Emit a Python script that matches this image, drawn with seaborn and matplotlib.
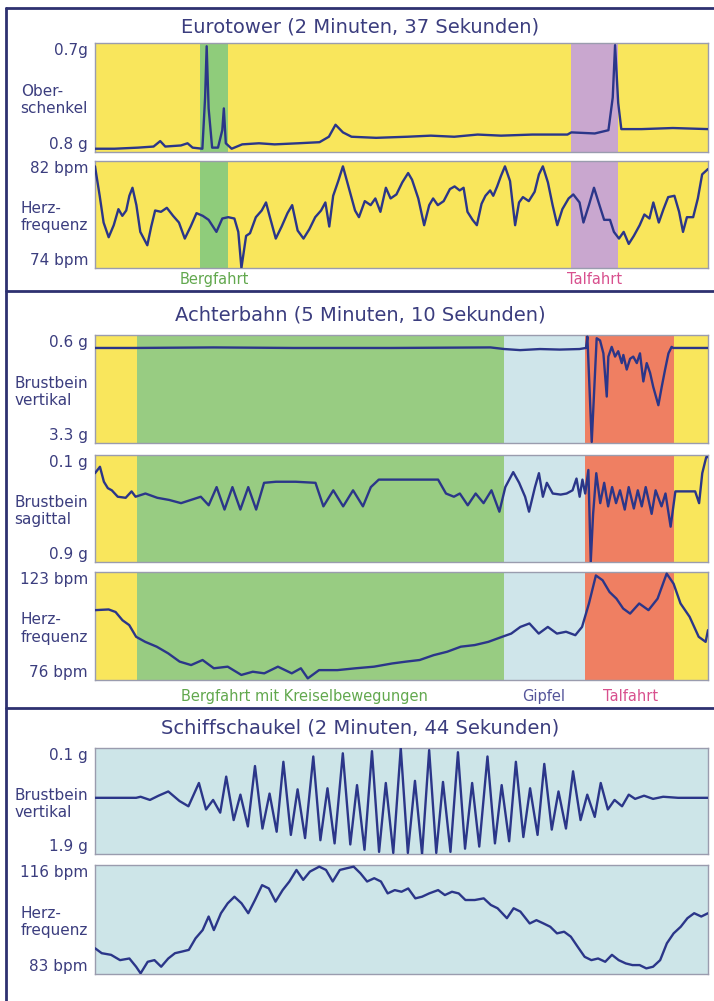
import numpy as np
import pandas as pd
import matplotlib
matplotlib.use("Agg")
import matplotlib.pyplot as plt
from matplotlib.lines import Line2D
import seaborn as sns

# ---- Eurotower (157 s) ----
euro_duration = 157
euro_bands = [(27, 34, "#8fcc7b"), (122, 134, "#c9a7cf")]
euro_band_labels = ["Bergfahrt", "Talfahrt"]
euro_band_label_colors = ["#62a84e", "#d8508e"]

euro_t_ober = [0, 5, 11, 15, 16.7, 18, 22, 23.7, 25, 27.5, 28.2, 28.6, 29.1, 30, 31.5, 32.6,
               33.0, 33.5, 35, 37.7, 42, 46, 52, 57.5, 59.9, 61.6, 63.5, 65.7, 72, 80, 86, 92,
               98, 104, 112, 121, 122, 128, 131.5, 132.6, 133.2, 134, 134.8, 140, 148, 157]
euro_ober = [0.03, 0.03, 0.04, 0.05, 0.10, 0.05, 0.06, 0.08, 0.04, 0.03, 0.50, 0.97, 0.40, 0.04,
             0.04, 0.20, 0.40, 0.08, 0.03, 0.07, 0.08, 0.07, 0.08, 0.09, 0.14, 0.25, 0.18, 0.14,
             0.13, 0.14, 0.15, 0.14, 0.16, 0.15, 0.16, 0.16, 0.18, 0.17, 0.20, 0.50, 0.98, 0.45,
             0.21, 0.21, 0.22, 0.21]

euro_t_hr = [0, 1.2, 2.2, 3.5, 4.8, 6.0, 7.0, 8.0, 8.8, 9.6, 10.6, 11.6, 13.4, 14.4, 15.4, 16.9,
             18.4, 20.0, 21.5, 23.0, 24.5, 26.0, 27.6, 29.1, 31.1, 32.6, 34.1, 35.7, 36.7, 37.5,
             38.7, 39.7, 41.2, 42.7, 43.8, 44.8, 46.3, 47.8, 49.3, 50.5, 51.9, 53.4, 54.9, 56.4,
             57.9, 59.0, 60.0, 61.0, 62.3, 63.5, 65.0, 66.6, 67.6, 69.1, 70.6, 71.8, 73.1, 74.5,
             75.7, 77.2, 78.7, 80.2, 81.2, 82.8, 84.3, 85.6, 86.6, 87.8, 89.3, 90.9, 92.1, 93.4,
             94.4, 95.4, 96.7, 97.8, 99.0, 100.0, 101.2, 102.0, 103.0, 104.0, 105.0, 106.3, 107.6,
             108.6, 109.6, 111.1, 112.6, 113.7, 114.7, 116.0, 117.2, 118.4, 119.7, 121.3, 122.5,
             124.1, 125.1, 126.5, 127.8, 129.2, 130.4, 131.9, 132.9, 134.2, 135.4, 136.7, 138.0,
             139.5, 140.7, 142.0, 143.0, 144.4, 145.6, 146.8, 148.4, 149.6, 150.6, 151.6, 153.2,
             154.4, 155.5, 157]
euro_hr = [81.6, 79.4, 77.4, 76.3, 77.2, 78.4, 77.9, 78.3, 79.4, 80.0, 78.7, 76.7, 75.7, 77.1,
           78.3, 78.2, 78.5, 77.9, 77.4, 76.2, 77.1, 78.1, 77.9, 77.6, 76.7, 77.7, 77.8, 77.7,
           76.7, 74.0, 76.4, 76.6, 77.8, 78.3, 78.9, 77.8, 76.2, 77.1, 78.1, 78.7, 76.8, 76.2,
           76.9, 77.8, 78.3, 78.9, 77.1, 79.4, 80.5, 81.6, 80.0, 78.3, 77.8, 79.0, 78.7, 79.2,
           78.2, 80.0, 79.2, 79.5, 80.4, 81.1, 80.6, 79.2, 77.2, 78.7, 79.2, 78.7, 79.0, 79.9,
           80.1, 79.8, 80.0, 78.2, 77.6, 77.2, 78.8, 79.4, 79.8, 79.4, 80.1, 80.9, 81.6, 80.5,
           77.2, 78.9, 79.3, 79.0, 79.7, 81.0, 81.6, 80.4, 78.7, 77.2, 78.4, 79.2, 79.5, 78.9,
           77.4, 78.7, 80.0, 78.7, 77.6, 77.6, 76.7, 76.2, 76.7, 75.8, 76.4, 77.2, 78.0, 77.7,
           78.9, 77.4, 78.4, 79.3, 79.4, 78.2, 76.7, 77.8, 77.8, 79.2, 81.0, 81.4]

# ---- Achterbahn (310 s) ----
achter_duration = 310
achter_bands = [(0, 21, "#f9e65c"), (21, 207, "#98cc82"), (207, 248, "#cfe5ea"),
                (248, 293, "#ef7f62"), (293, 310, "#f9e65c")]
achter_label_t = [106, 227, 271]
achter_band_labels = ["Bergfahrt mit Kreiselbewegungen", "Gipfel", "Talfahrt"]
achter_band_label_colors = ["#62a84e", "#55559a", "#d8508e"]

achter_t_vert = [0, 20, 60, 100, 150, 200, 207, 215, 225, 235, 245, 248.3, 249.0, 251.2, 253.7,
                 255.4, 257.1, 258.8, 259.6, 261.3, 263.0, 264.6, 266.4, 267.2, 268.9, 270.6,
                 272.2, 274.0, 275.6, 277.3, 279.0, 280.7, 282.3, 284.9, 286.6, 288.3, 290.0,
                 291.6, 292.4, 300, 310]
achter_vert = [0.88, 0.88, 0.885, 0.88, 0.88, 0.885, 0.87, 0.86, 0.87, 0.865, 0.87, 0.88, 0.985,
               0.01, 0.97, 0.95, 0.83, 0.43, 0.80, 0.89, 0.80, 0.85, 0.74, 0.815, 0.68, 0.78,
               0.80, 0.74, 0.83, 0.57, 0.74, 0.65, 0.52, 0.35, 0.52, 0.68, 0.83, 0.89, 0.88,
               0.88, 0.88]

achter_t_sag = [0, 2.5, 4.5, 6.5, 8.5, 11.5, 15.5, 18.5, 20.5, 25.5, 31.5, 37.5, 43.5, 48.5,
                53.5, 57.5, 61.5, 65.5, 69.5, 73.5, 77.5, 81.5, 85.5, 91.5, 101.5, 111.5, 115.5,
                120.5, 125.5, 130.5, 135.5, 139.5, 143.5, 153.5, 163.5, 173.5, 177.5, 181.5,
                184.5, 188.5, 192.5, 196.5, 200.5, 204.5, 207.5, 211.5, 214.5, 217.5, 219.5,
                222.5, 224.5, 226.5, 228.5, 231.5, 235.5, 238.5, 241.5, 243.5, 245.1, 246.5,
                247.9, 249.5, 250.7, 251.9, 253.5, 255.5, 257.5, 259.5, 261.5, 263.5, 265.5,
                267.9, 269.9, 272.5, 274.5, 276.5, 278.5, 281.5, 283.5, 286.5, 288.5, 291.1,
                293.5, 299.5, 303.5, 305.5, 307.1, 309.1, 310]
achter_sag = [0.83, 0.89, 0.75, 0.69, 0.67, 0.61, 0.60, 0.66, 0.61, 0.64, 0.60, 0.58, 0.55, 0.58,
              0.61, 0.53, 0.70, 0.49, 0.70, 0.49, 0.70, 0.49, 0.74, 0.75, 0.75, 0.74, 0.52, 0.67,
              0.52, 0.67, 0.52, 0.70, 0.77, 0.77, 0.77, 0.77, 0.64, 0.61, 0.64, 0.53, 0.64, 0.55,
              0.67, 0.47, 0.70, 0.84, 0.74, 0.61, 0.47, 0.70, 0.83, 0.61, 0.74, 0.64, 0.63, 0.64,
              0.67, 0.78, 0.61, 0.77, 0.64, 0.86, 0.00, 0.45, 0.83, 0.55, 0.74, 0.52, 0.70, 0.55,
              0.67, 0.49, 0.70, 0.50, 0.67, 0.52, 0.70, 0.45, 0.67, 0.52, 0.64, 0.33, 0.66, 0.66,
              0.66, 0.55, 0.83, 0.98, 0.98]

achter_t_hr = [0, 6.9, 10.4, 13.9, 17.3, 20.8, 25.4, 31.2, 37.0, 42.8, 48.6, 54.4, 60.1, 67.1,
               74.0, 79.8, 85.6, 92.5, 99.5, 104.1, 107.6, 113.3, 122.6, 131.8, 141.1, 150.3,
               157.3, 164.2, 171.2, 178.1, 185.0, 192.0, 198.9, 205.9, 210.5, 215.1, 219.7,
               224.4, 229.0, 233.6, 238.2, 242.9, 246.3, 249.8, 253.3, 256.7, 260.2, 263.7,
               267.1, 270.6, 275.2, 279.9, 284.5, 289.1, 292.6, 296.1, 300.7, 305.3, 308.8, 310]
achter_hr = [106.4, 106.7, 105.6, 102.0, 99.9, 94.8, 92.6, 90.5, 87.6, 84.0, 82.5, 84.7, 81.1,
             81.8, 78.2, 79.6, 78.9, 81.8, 78.9, 81.1, 76.7, 80.3, 80.3, 81.1, 81.8, 83.2, 84.0,
             84.7, 86.8, 88.3, 90.5, 91.2, 92.6, 94.8, 96.2, 99.1, 100.6, 96.2, 99.1, 96.2, 97.0,
             95.5, 99.1, 109.3, 121.5, 119.4, 114.3, 111.4, 107.1, 104.9, 109.3, 106.4, 111.4,
             122.3, 117.9, 109.3, 103.5, 94.8, 92.6, 97.7]

# ---- Schiffschaukel (164 s) ----
schiff_duration = 164
schiff_t_vert = [0, 11.0, 12.2, 14.7, 17.0, 19.6, 22.6, 25.0,
                 27.8, 29.7, 31.6, 33.5, 35.1, 37.1, 38.9, 40.9,
                 42.8, 44.8, 46.7, 48.6, 50.4, 52.4, 54.2, 56.2,
                 58.4, 60.3, 62.2, 64.1, 66.3, 68.3, 70.1, 72.1,
                 74.1, 76.0, 77.8, 79.8, 81.8, 83.7, 85.6, 87.5,
                 89.4, 91.3, 93.1, 95.1, 97.1, 99.0, 100.9, 102.8,
                 105.0, 107.0, 108.8, 110.8, 112.6, 114.6, 116.4, 118.4,
                 120.2, 122.2, 124.0, 126.0, 127.9, 129.9, 131.7, 133.7,
                 135.3, 137.2, 139.0, 141.0,
                 142.8, 144.5, 146.9, 149.3, 152.0, 156.0, 160.0, 164.0]
schiff_vert = [0.53, 0.53, 0.54, 0.51, 0.55, 0.59, 0.50, 0.45,
               0.67, 0.42, 0.51, 0.39, 0.73, 0.32, 0.56, 0.26,
               0.83, 0.24, 0.57, 0.21, 0.87, 0.18, 0.61, 0.15,
               0.92, 0.13, 0.62, 0.10, 0.95, 0.09, 0.65, 0.04,
               0.97, 0.02, 0.67, 0.01, 1.00, 0.01, 0.69, 0.00,
               0.98, 0.01, 0.68, 0.02, 0.96, 0.05, 0.67, 0.07,
               0.92, 0.10, 0.65, 0.12, 0.87, 0.16, 0.62, 0.18,
               0.85, 0.23, 0.59, 0.24, 0.78, 0.32, 0.56, 0.35,
               0.67, 0.42, 0.51, 0.45,
               0.56, 0.52, 0.55, 0.52, 0.54, 0.53, 0.53, 0.53]

schiff_t_hr = [0, 1.8, 4.3, 6.7, 9.2, 11.0, 12.2, 14.1, 15.9, 17.7, 19.6, 21.4, 23.3, 25.1, 26.9,
               28.8, 30.4, 31.8, 33.7, 35.5, 37.3, 39.2, 41.0, 42.8, 44.7, 46.5, 48.3, 50.2,
               52.0, 53.9, 55.7, 57.5, 60.0, 61.8, 63.6, 65.5, 67.3, 69.2, 71.0, 72.8, 74.7,
               76.5, 78.3, 80.2, 82.0, 83.8, 85.7, 87.5, 89.4, 91.8, 93.6, 95.5, 97.3, 99.1,
               101.6, 104.0, 105.9, 107.7, 110.2, 112.0, 113.8, 116.3, 118.1, 120.0, 121.8,
               123.6, 125.5, 127.3, 129.1, 131.0, 132.8, 134.6, 136.5, 138.3, 140.1, 142.0,
               143.8, 145.7, 147.5, 149.3, 151.2, 153.0, 154.8, 156.7, 158.5, 160.3, 162.2, 164.0]
schiff_hr = [90.8, 89.3, 88.8, 87.2, 87.7, 85.2, 83.2, 86.7, 87.2, 85.2, 87.7, 89.3, 89.8, 90.3,
             93.8, 96.3, 100.4, 96.3, 101.4, 104.4, 106.4, 104.4, 101.4, 105.4, 109.9, 108.9,
             104.9, 108.4, 111.0, 114.5, 111.5, 114.0, 115.5, 114.5, 111.0, 114.5, 115.0, 115.5,
             113.5, 111.0, 112.0, 111.0, 107.4, 108.4, 107.9, 108.9, 105.9, 106.4, 107.4, 108.4,
             106.9, 107.9, 107.4, 105.4, 105.4, 105.9, 103.9, 102.9, 99.9, 102.9, 101.9, 98.3,
             99.3, 98.3, 97.3, 95.3, 95.8, 94.3, 91.3, 88.2, 87.2, 87.7, 86.7, 88.8, 87.2, 86.2,
             85.7, 85.7, 84.7, 85.2, 87.2, 92.3, 95.3, 97.3, 99.9, 101.4, 100.4, 101.4]

# ---- style ----
sns.set_theme(style="white")
plt.rcParams["font.family"] = ["DejaVu Sans"]
LINE = "#2b3689"
TXT = "#3b3d7e"
FRAME = "#2e3170"
YELLOW = "#f9e65c"
SCHIFF_BG = "#cde5e8"

W, H = 714, 1001
fig = plt.figure(figsize=(W / 100, H / 100), dpi=100)
fig.patch.set_facecolor("white")


def rect(top, bottom):
    return [95 / W, 1 - bottom / H, (708 - 95) / W, (bottom - top) / H]


def panel(top, bottom, t, v, duration, ylim, labels, bg, bands=()):
    ax = fig.add_axes(rect(top, bottom))
    ax.set_facecolor(bg)
    for a, b, c in bands:
        ax.axvspan(a, b, color=c, lw=0, zorder=0)
    df = pd.DataFrame({"t": t, "v": v})
    sns.lineplot(data=df, x="t", y="v", ax=ax, color=LINE, lw=1.7,
                 sort=False, estimator=None, zorder=3)
    ax.set_xlim(0, duration)
    ax.set_ylim(*ylim)
    ax.set_xticks([])
    ax.set_xlabel("")
    ax.set_ylabel("")
    lo, hi = ylim
    ax.set_yticks([lo, (lo + hi) / 2, hi], [labels[2], labels[1], labels[0]])
    ax.tick_params(axis="y", length=0, pad=5, labelsize=11, labelcolor=TXT, left=False)
    tl = ax.get_yticklabels()
    tl[0].set_va("bottom")
    tl[1].set_multialignment("left")
    tl[2].set_va("top")
    for s in ax.spines.values():
        s.set_color("#9a9cae")
        s.set_linewidth(1.0)
    return ax


def title(y, txt):
    fig.text(360 / W, 1 - y / H, txt, ha="center", va="center", fontsize=14, color=TXT)


# Eurotower
title(27, "Eurotower (2 Minuten, 37 Sekunden)")
panel(43, 152, euro_t_ober, euro_ober, euro_duration, (0, 1),
      ["0.7g", "Ober-\nschenkel", "0.8 g"], YELLOW, euro_bands)
ax = panel(161, 268, euro_t_hr, euro_hr, euro_duration, (74, 82),
           ["82 bpm", "Herz-\nfrequenz", "74 bpm"], YELLOW, euro_bands)
for (a, b, c), lab, col in zip(euro_bands, euro_band_labels, euro_band_label_colors):
    ax.text((a + b) / 2, -0.11, lab, transform=ax.get_xaxis_transform(),
            ha="center", va="center", fontsize=10.5, color=col)

# Achterbahn
title(315, "Achterbahn (5 Minuten, 10 Sekunden)")
panel(335, 443, achter_t_vert, achter_vert, achter_duration, (0, 1),
      ["0.6 g", "Brustbein\nvertikal", "3.3 g"], YELLOW, achter_bands)
panel(455, 562, achter_t_sag, achter_sag, achter_duration, (0, 1),
      ["0.1 g", "Brustbein\nsagittal", "0.9 g"], YELLOW, achter_bands)
ax = panel(572, 680, achter_t_hr, achter_hr, achter_duration, (76, 123),
           ["123 bpm", "Herz-\nfrequenz", "76 bpm"], YELLOW, achter_bands)
for x, lab, col in zip(achter_label_t, achter_band_labels, achter_band_label_colors):
    ax.text(x, -0.157, lab, transform=ax.get_xaxis_transform(),
            ha="center", va="center", fontsize=10.5, color=col)

# Schiffschaukel
title(728, "Schiffschaukel (2 Minuten, 44 Sekunden)")
panel(748, 854, schiff_t_vert, schiff_vert, schiff_duration, (0, 1),
      ["0.1 g", "Brustbein\nvertikal", "1.9 g"], SCHIFF_BG)
panel(865, 974, schiff_t_hr, schiff_hr, schiff_duration, (83, 116),
      ["116 bpm", "Herz-\nfrequenz", "83 bpm"], SCHIFF_BG)

# frame lines
for y in (8, 291, 708):
    fig.add_artist(Line2D([6 / W, 1], [1 - y / H, 1 - y / H], transform=fig.transFigure,
                          color=FRAME, lw=2.0))
fig.add_artist(Line2D([6 / W, 6 / W], [1 - 8 / H, 0], transform=fig.transFigure,
                      color=FRAME, lw=2.0))

fig.savefig("out.png", dpi=100)
